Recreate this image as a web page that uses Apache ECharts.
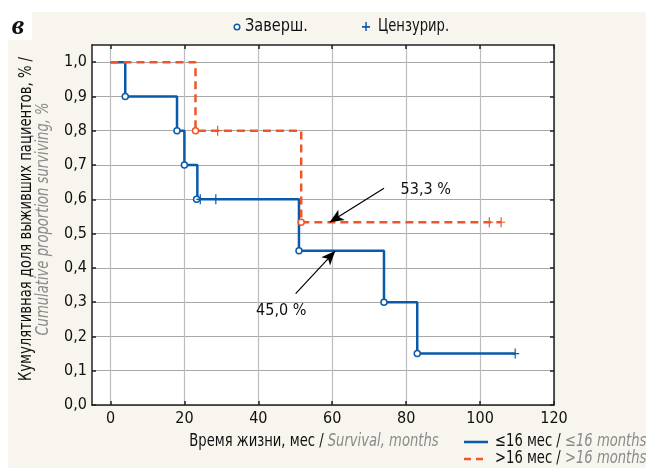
<!DOCTYPE html>
<html><head><meta charset="utf-8">
<script src="https://cdn.jsdelivr.net/npm/echarts@6/dist/echarts.min.js"></script>
<style>html,body{margin:0;padding:0;background:#fff}#c{width:646px;height:468px}</style>
</head><body><div id="c"></div>
<script>
// Data
const xTicks = [0, 20, 40, 60, 80, 100, 120];
const yTicks = [0, 0.1, 0.2, 0.3, 0.4, 0.5, 0.6, 0.7, 0.8, 0.9, 1.0];
// ≤16 months group
const lowCurveX = [0, 4, 18, 20, 23.5, 51, 74, 83, 109.5];
const lowCurveY = [1.0, 0.9, 0.8, 0.7, 0.6, 0.45, 0.3, 0.15, 0.15];
const lowEventX = [4, 18, 20, 23.3, 51, 74, 83];
const lowEventY = [0.9, 0.8, 0.7, 0.6, 0.45, 0.3, 0.15];
const lowCensX = [24.3, 28.5, 109.5];
const lowCensY = [0.6, 0.6, 0.15];
// >16 months group
const highCurveX = [0, 23, 51.6, 105.7];
const highCurveY = [1.0, 0.8, 0.533, 0.533];
const highEventX = [23, 51.6];
const highEventY = [0.8, 0.533];
const highCensX = [29, 102.5, 105.7];
const highCensY = [0.8, 0.533, 0.533];
// annotations
const annotLabels = ['53,3 %', '45,0 %'];
const annotTextPos = [[85.3, 0.628], [46.2, 0.275]];
const annotFrom = [[74, 0.632], [50.1, 0.325]];
const annotTo = [[59.3, 0.533], [60.8, 0.449]];

const BLUE = '#0a5aab', ORANGE = '#f0552a', GRAY = '#8a8a8a';
const FONT = '"Liberation Sans Narrow","DejaVu Sans Condensed","Roboto Condensed",sans-serif';
const SX = 0.86;
const zip = (a, b) => a.map((v, i) => [v, b[i]]);
const PLUS = 'path://M-0.6,-5h1.2v10h-1.2zM-4,-0.6h8v1.2h-8z';

const chart = echarts.init(document.getElementById('c'), null, {renderer: 'canvas'});
const axisX = (pos, labels) => ({
  type: 'value', min: -5, max: 120, position: pos,
  axisLine: {show: true, onZero: false, lineStyle: {color: '#222', width: 1.5}},
  axisTick: {show: true, inside: true, length: 4, customValues: xTicks, lineStyle: {color: '#222', width: 1.5}},
  axisLabel: {show: labels, customValues: xTicks, fontSize: 16, color: '#111', margin: 6, fontFamily: FONT},
  splitLine: {show: labels, lineStyle: {color: '#bdbdbd', width: 1.2}}
});
const axisY = (pos, labels) => ({
  type: 'value', min: 0, max: 1.05, position: pos,
  axisLine: {show: true, onZero: false, lineStyle: {color: '#222', width: 1.5}},
  axisTick: {show: true, inside: true, length: 4, customValues: yTicks, lineStyle: {color: '#222', width: 1.5}},
  axisLabel: {show: labels, customValues: yTicks, fontSize: 16, color: '#111', margin: 5, fontFamily: FONT,
    formatter: v => v.toFixed(1).replace('.', ',')},
  splitLine: {show: labels, lineStyle: {color: '#a8a8a8', width: 1.2}}
});
const richAB = {a: {font: '17px ' + FONT, fill: '#111', color: '#111'}, b: {font: 'italic 17px ' + FONT, fill: GRAY, color: GRAY}};

const option = {
  animation: false,
  backgroundColor: 'transparent',
  grid: {left: 92, right: 92, top: 45, bottom: 63, backgroundColor: '#fff', show: true, borderWidth: 0},
  xAxis: [axisX('bottom', true), axisX('top', false)],
  yAxis: [axisY('left', true), axisY('right', false)],
  graphic: [
    {type: 'rect', z: -10, shape: {x: 32, y: 12, width: 614, height: 456}, style: {fill: '#f8f4ee'}},
    {type: 'rect', z: -10, shape: {x: 8, y: 40, width: 30, height: 428}, style: {fill: '#f8f4ee'}},
    {type: 'text', x: 18, y: 27, style: {text: 'в', font: 'italic bold 28px "Liberation Serif","DejaVu Serif",serif', fill: '#111', align: 'center', verticalAlign: 'middle'}},
    {type: 'circle', shape: {cx: 237, cy: 27, r: 2.8}, style: {fill: '#fff', stroke: BLUE, lineWidth: 1.5}},
    {type: 'text', x: 245, y: 27, scaleX: 0.95, style: {text: 'Заверш.', font: '17px ' + FONT, fill: '#111', verticalAlign: 'middle'}},
    {type: 'text', x: 366, y: 27, style: {text: '+', font: 'bold 14px ' + FONT, fill: BLUE, align: 'center', verticalAlign: 'middle'}},
    {type: 'text', x: 378, y: 27, scaleX: SX, style: {text: 'Цензурир.', font: '17px ' + FONT, fill: '#111', verticalAlign: 'middle'}},
    {type: 'text', x: 27, y: 219, rotation: Math.PI / 2, scaleX: SX, style: {text: 'Кумулятивная доля выживших пациентов, % /', font: '17px ' + FONT, fill: '#111', align: 'center', verticalAlign: 'middle'}},
    {type: 'text', x: 44, y: 219, rotation: Math.PI / 2, scaleX: SX, style: {text: 'Cumulative proportion surviving, %', font: 'italic 17px ' + FONT, fill: GRAY, align: 'center', verticalAlign: 'middle'}},
    {type: 'text', x: 314, y: 442, scaleX: SX, style: {text: '{a|Время жизни, мес / }{b|Survival, months}', align: 'center', verticalAlign: 'middle', rich: richAB}},
    {type: 'line', shape: {x1: 464, y1: 442, x2: 488, y2: 442}, style: {stroke: BLUE, lineWidth: 2.5}},
    {type: 'line', shape: {x1: 464, y1: 459, x2: 488, y2: 459}, style: {stroke: ORANGE, lineWidth: 2.5, lineDash: [7, 5]}},
    {type: 'text', x: 495, y: 442, scaleX: SX, style: {text: '{a|≤16 мес / }{b|≤16 months}', verticalAlign: 'middle', rich: richAB}},
    {type: 'text', x: 495, y: 459, scaleX: SX, style: {text: '{a|>16 мес / }{b|>16 months}', verticalAlign: 'middle', rich: richAB}}
  ],
  series: [
    {type: 'line', step: 'end', data: zip(highCurveX, highCurveY), showSymbol: false, z: 3,
      lineStyle: {color: ORANGE, width: 2.5, type: [8, 5]}},
    {type: 'line', step: 'end', data: zip(lowCurveX, lowCurveY), showSymbol: false, z: 2,
      lineStyle: {color: BLUE, width: 2.5}},
    {type: 'scatter', data: zip(lowEventX, lowEventY), symbol: 'circle', symbolSize: 6, z: 4,
      itemStyle: {color: '#fff', borderColor: BLUE, borderWidth: 1.5, opacity: 1}},
    {type: 'scatter', data: zip(lowCensX, lowCensY), symbol: PLUS, symbolSize: [8, 10], z: 4, itemStyle: {color: BLUE, opacity: 1}},
    {type: 'scatter', data: zip(highEventX, highEventY), symbol: 'circle', symbolSize: 6, z: 4,
      itemStyle: {color: '#fff', borderColor: ORANGE, borderWidth: 1.5, opacity: 1}},
    {type: 'scatter', data: zip(highCensX, highCensY), symbol: PLUS, symbolSize: [8, 10], z: 4, itemStyle: {color: ORANGE, opacity: 1}},
    {type: 'line', data: [], z: 6,
      markLine: {silent: true, animation: false, symbol: ['none', 'arrow'], symbolSize: [9, 14],
        label: {show: false}, lineStyle: {color: '#000', width: 1.2, type: 'solid'},
        data: annotFrom.map((f, i) => [{coord: f}, {coord: annotTo[i]}])},
      markPoint: {silent: true, animation: false, symbol: 'circle', symbolSize: 0,
        label: {show: true, position: 'inside', fontSize: 16, color: '#111', fontFamily: FONT, formatter: p => p.name},
        data: annotTextPos.map((c, i) => ({coord: c, name: annotLabels[i]}))}}
  ]
};
chart.setOption(option);
</script></body></html>
